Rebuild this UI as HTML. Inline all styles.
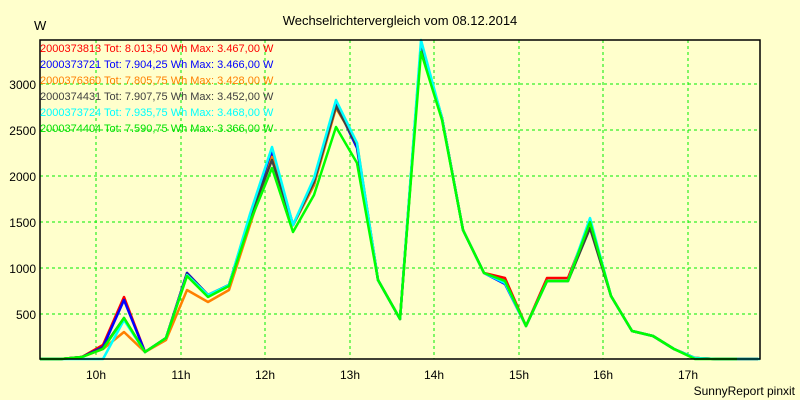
<!DOCTYPE html>
<html><head><meta charset="utf-8"><style>
html,body{margin:0;padding:0;background:#ffffcc;}
svg{display:block;font-family:"Liberation Sans",sans-serif;}
</style></head><body>
<svg width="800" height="400" viewBox="0 0 800 400">
<rect width="800" height="400" fill="#ffffcc"/>
<text x="400" y="25" font-size="13" text-anchor="middle" fill="#000">Wechselrichtervergleich vom 08.12.2014</text>
<text x="34" y="30" font-size="13" fill="#000">W</text>
<g stroke="#00ee00" stroke-width="1" stroke-dasharray="3,3">
<line x1="40" x2="760" y1="314" y2="314"/><line x1="40" x2="760" y1="268" y2="268"/>
<line x1="40" x2="760" y1="222" y2="222"/><line x1="40" x2="760" y1="176" y2="176"/>
<line x1="40" x2="760" y1="130" y2="130"/><line x1="40" x2="760" y1="84" y2="84"/>
<line x1="96" x2="96" y1="40" y2="359"/><line x1="181" x2="181" y1="40" y2="359"/>
<line x1="265" x2="265" y1="40" y2="359"/><line x1="350" x2="350" y1="40" y2="359"/>
<line x1="434" x2="434" y1="40" y2="359"/><line x1="519" x2="519" y1="40" y2="359"/>
<line x1="603" x2="603" y1="40" y2="359"/><line x1="688" x2="688" y1="40" y2="359"/>
</g>
<g font-size="12" fill="#000" text-anchor="end">
<text x="36" y="319">500</text><text x="36" y="273">1000</text><text x="36" y="227">1500</text>
<text x="36" y="181">2000</text><text x="36" y="135">2500</text><text x="36" y="89">3000</text>
</g>
<g font-size="12" fill="#000" text-anchor="middle">
<text x="96" y="379">10h</text><text x="181" y="379">11h</text><text x="265" y="379">12h</text>
<text x="350" y="379">13h</text><text x="434" y="379">14h</text><text x="519" y="379">15h</text>
<text x="603" y="379">16h</text><text x="688" y="379">17h</text>
</g>
<text x="795" y="395" font-size="12" text-anchor="end" fill="#000">SunnyReport pinxit</text>
<g fill="none" stroke-width="2.5" stroke-linejoin="round">
<polyline stroke="#ff0000" points="40,359 61,359 82,357 103,345 124,297 145,352 166,338 187,273 208,295 229,285 250,216 272,155 293,225 314,182 336,106 357,145 378,280 400,319 421,45 442,118 463,230 484,273 505,278 526,326 547,278 568,278 590,222 611,296 632,331 653,336 674,349 695,358 716,359 737,359 758,359"/>
<polyline stroke="#0000ff" points="40,359 61,359 82,357 103,347 124,300 145,352 166,338 187,273 208,295 229,285 250,217 272,150 293,225 314,185 336,104 357,148 378,280 400,319 421,45 442,118 463,230 484,273 505,284 526,326 547,281 568,281 590,222 611,296 632,331 653,336 674,349 695,358 716,359 737,359 758,359"/>
<polyline stroke="#ff8000" points="40,359 61,359 82,357 103,349 124,332 145,352 166,340 187,290 208,302 229,290 250,225 272,157 293,225 314,185 336,108 357,143 378,280 400,319 421,45 442,118 463,230 484,273 505,281 526,326 547,281 568,281 590,222 611,296 632,331 653,336 674,349 695,358 716,359 737,359 758,359"/>
<polyline stroke="#404040" points="40,359 61,359 82,357 103,348 124,318 145,352 166,338 187,274 208,295 229,285 250,217 272,160 293,225 314,182 336,106 357,145 378,280 400,319 421,45 442,118 463,230 484,273 505,281 526,326 547,281 568,281 590,228 611,296 632,331 653,336 674,349 695,358 716,359 737,359 758,359"/>
<polyline stroke="#00ffff" points="40,359 61,359 82,359 103,359 124,320 145,352 166,338 187,275 208,295 229,285 250,214 272,147 293,225 314,178 336,100 357,143 378,280 400,319 421,40 442,118 463,230 484,273 505,283 526,326 547,281 568,281 590,218 611,296 632,331 653,336 674,349 695,358 716,359 737,359 760,359"/>
<polyline stroke="#00ff00" points="40,359 61,359 82,357 103,349 124,318 145,352 166,338 187,276 208,297 229,286 250,222 272,168 293,232 314,195 336,127 357,163 378,280 400,319 421,52 442,120 463,230 484,273 505,281 526,326 547,281 568,281 590,222 611,296 632,331 653,336 674,349 695,359 716,359 737,359"/>
</g>
<path d="M40,40 H760 V359 H40 Z" fill="none" stroke="#000" stroke-width="1.5"/>
<g font-size="11">
<text x="40" y="52" fill="#ff0000">2000373813 Tot: 8.013,50 Wh Max: 3.467,00 W</text>
<text x="40" y="68" fill="#0000ff">2000373721 Tot: 7.904,25 Wh Max: 3.466,00 W</text>
<text x="40" y="84" fill="#ff8000">2000376360 Tot: 7.805,75 Wh Max: 3.428,00 W</text>
<text x="40" y="100" fill="#404040">2000374431 Tot: 7.907,75 Wh Max: 3.452,00 W</text>
<text x="40" y="116" fill="#00ffff">2000373724 Tot: 7.935,75 Wh Max: 3.468,00 W</text>
<text x="40" y="132" fill="#00e000">2000374404 Tot: 7.590,75 Wh Max: 3.366,00 W</text>
</g>
</svg>
</body></html>
